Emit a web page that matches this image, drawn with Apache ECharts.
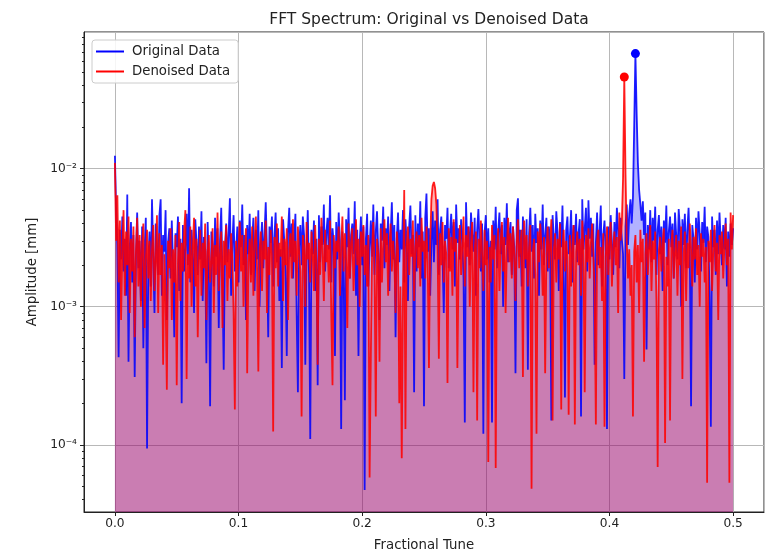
<!DOCTYPE html>
<html>
<head>
<meta charset="utf-8">
<script src="https://cdn.jsdelivr.net/npm/echarts@6/dist/echarts.min.js"></script>
<style>
  html, body { margin: 0; padding: 0; background: #fff; }
  #chart { width: 772px; height: 557px; }
</style>
</head>
<body>
<div id="chart"></div>
<script>
// FFT bins: fractional tune 0 .. 0.5, one bin every 0.001
const tuneStep = 0.001
// amplitudes, in units of 1e-4 mm
const ampUnit = 1e-4
const originalAmp = [
  124, 50, 28, 4.3, 36, 22, 45, 18, 31, 12,
  65, 4, 27, 41, 15, 33, 3.1, 24, 48, 19,
  30, 11, 38, 5, 26, 44, 0.94, 21, 35, 14,
  60, 23, 9, 40, 28, 17, 46, 60, 12, 33,
  25, 50, 8, 29, 37, 16, 42, 21, 6, 34,
  27, 45, 13, 31, 2, 39, 18, 26, 47, 20,
  72, 15, 36, 24, 9, 43, 29, 17, 38, 22,
  49, 11, 32, 26, 3.9, 41, 19, 1.9, 35, 28,
  14, 44, 23, 37, 7, 30, 52, 16, 3.5, 27,
  40, 21, 34, 61, 12, 29, 46, 18, 25, 38,
  15, 42, 27, 55, 20, 33, 8, 39, 24, 47,
  17, 30, 44, 13, 36, 22, 50, 10, 28, 41,
  19, 34, 57, 25, 6, 38, 29, 45, 14, 32,
  48, 21, 37, 11, 26, 3.6, 43, 30, 18, 4.4,
  35, 52, 23, 40, 16, 31, 47, 9, 2.4, 28,
  39, 20, 45, 33, 3.8, 26, 50, 17, 1.1, 36,
  24, 42, 13, 31, 2.7, 46, 21, 38, 28, 55,
  18, 34, 44, 26, 64, 15, 37, 29, 4.4, 41,
  22, 48, 30, 1.3, 35, 19, 2.1, 43, 27, 52,
  16, 33, 40, 24, 58, 12, 36, 4.4, 29, 45,
  20, 38, 0.47, 31, 47, 14, 27, 42, 23, 55,
  17, 35, 49, 25, 8, 40, 30, 53, 19, 37,
  28, 45, 13, 33, 57, 22, 39, 6, 31, 48,
  21, 36, 26, 50, 15, 43, 29, 11, 38, 54,
  24, 33, 2.4, 46, 18, 40, 27, 58, 16, 35,
  1.9, 44, 66, 25, 37, 12, 30, 49, 21, 42,
  28, 60, 17, 36, 45, 23, 9, 39, 31, 52,
  19, 34, 47, 26, 41, 14, 55, 29, 37, 22,
  43, 31, 16, 1.45, 57, 27, 38, 20, 48, 33,
  25, 44, 12, 36, 51, 28, 18, 40, 1.2, 34,
  46, 22, 37, 15, 30, 1.45, 42, 26, 53, 19,
  35, 48, 24, 39, 10, 44, 28, 56, 21, 33,
  41, 17, 38, 27, 3.3, 50, 61, 23, 36, 14,
  45, 30, 19, 43, 3.5, 34, 52, 25, 39, 16,
  47, 29, 37, 12, 42, 26, 55, 20, 33, 44,
  18, 38, 28, 1.5, 46, 31, 22, 49, 35, 13,
  41, 27, 54, 19, 2.2, 36, 45, 24, 32, 50,
  15, 39, 28, 47, 21, 34, 43, 1.6, 60, 26,
  37, 52, 18, 59, 31, 44, 23, 40, 3.8, 29,
  48, 20, 35, 54, 14, 33, 42, 25, 1.3, 38,
  22, 46, 30, 17, 41, 27, 52, 36, 19, 44,
  31, 24, 3, 38, 55, 28, 47, 60, 40, 62,
  200, 680, 250, 110, 70, 55, 42, 58, 33, 48,
  4.9, 39, 26, 50, 21, 44, 30, 53, 17, 36,
  46, 24, 38, 13, 42, 29, 54, 20, 35, 45,
  27, 40, 16, 48, 33, 22, 51, 37, 10, 43,
  28, 47, 19, 36, 52, 25, 1.9, 39, 31, 15,
  44, 26, 49, 34, 18, 41, 29, 53, 21, 38,
  32, 12, 1.35, 45, 27, 36, 17, 42, 24, 48,
  30, 20, 39, 26, 44, 14, 35, 23, 40, 28,
  37
]
const denoisedAmp = [
  110, 30, 64, 15, 42, 8, 27, 50, 12, 35,
  20, 45, 9, 31, 18, 38, 6, 25, 44, 14,
  33, 10, 28, 40, 7, 22, 36, 16, 30, 11,
  26, 39, 13, 21, 46, 9, 34, 17, 28, 3.8,
  24, 12, 2.5, 30, 19, 37, 8, 26, 15, 33,
  2.7, 22, 41, 11, 29, 18, 35, 50, 3, 24,
  16, 38, 10, 27, 44, 14, 31, 6, 23, 36,
  12, 29, 19, 40, 8, 25, 33, 15, 21, 37,
  9, 28, 17, 48, 13, 24, 35, 7, 30, 20,
  39, 11, 26, 16, 34, 22, 9, 1.8, 30, 14,
  27, 41, 18, 33, 10, 25, 37, 3.3, 21, 31,
  15, 38, 12, 28, 45, 19, 3.4, 26, 35, 13,
  30, 22, 42, 9, 27, 17, 36, 24, 1.25, 32,
  19, 40, 14, 29, 23, 45, 11, 31, 20, 37,
  8, 26, 34, 16, 43, 21, 30, 12, 38, 25,
  18, 1.6, 33, 27, 10, 41, 22, 29, 15, 35,
  24, 13, 39, 20, 3.8, 31, 17, 44, 26, 11,
  36, 21, 28, 15, 42, 9, 2.7, 33, 19, 30,
  25, 38, 12, 27, 45, 18, 34, 22, 7, 40,
  16, 29, 37, 13, 24, 43, 20, 31, 10, 35,
  23, 39, 17, 28, 14, 33, 0.58, 4.5, 26, 41,
  19, 1.6, 31, 24, 4, 37, 15, 29, 43, 21,
  34, 12, 27, 40, 18, 30, 22, 9, 35, 26,
  2, 14, 0.8, 13, 70, 1.3, 28, 38, 17, 31,
  23, 42, 11, 27, 35, 19, 33, 14, 44, 25,
  30, 16, 38, 21, 3.6, 29, 60, 75, 80, 72,
  55, 26, 4.2, 34, 20, 41, 15, 30, 24, 2.8,
  37, 18, 32, 12, 43, 25, 31, 3.6, 22, 39,
  17, 28, 45, 14, 33, 23, 38, 10, 29, 41,
  2.4, 26, 35, 1.5, 31, 19, 42, 24, 13, 36,
  20, 30, 0.75, 27, 15, 39, 22, 33, 0.68, 25,
  37, 13, 29, 41, 18, 32, 9, 26, 44, 21,
  34, 16, 38, 24, 11, 30, 43, 19, 28, 36,
  3.1, 42, 22, 33, 14, 27, 39, 0.48, 25, 31,
  17, 1.2, 35, 21, 40, 28, 12, 32, 3.3, 24,
  38, 19, 29, 43, 1.5, 26, 34, 15, 31, 22,
  40, 1.8, 27, 36, 18, 30, 23, 1.65, 33, 14,
  28, 39, 1.4, 25, 35, 20, 31, 12, 42, 26,
  2.4, 33, 21, 37, 16, 29, 40, 24, 13, 1.4,
  30, 36, 19, 27, 11, 34, 1.35, 23, 38, 17,
  29, 41, 14, 26, 35, 20, 32, 9, 48, 30,
  40, 85, 460, 90, 30, 16, 26, 12, 20, 1.6,
  25, 33, 15, 28, 9, 36, 21, 31, 4, 24,
  34, 17, 27, 39, 13, 30, 22, 35, 11, 0.69,
  26, 32, 18, 29, 37, 1.03, 23, 14, 31, 1.5,
  28, 36, 16, 25, 33, 12, 30, 20, 38, 3,
  24, 35, 11, 29, 19, 40, 26, 14, 32, 22,
  37, 17, 28, 10, 34, 23, 31, 15, 27, 0.53,
  30, 21, 36, 13, 26, 39, 18, 29, 8, 33,
  24, 35, 16, 28, 40, 20, 31, 0.53, 48, 26,
  46
]
const seriesNames = ['Original Data', 'Denoised Data']
const seriesColors = ['#0000ff', '#ff0000']
const yMin = 3.26e-5
const yMax = 0.0975

function toPairs (amps) {
  return amps.map((v, i) => [+(i * tuneStep).toFixed(3), v * ampUnit])
}
// dot on the highest bin of each spectrum
function peakOf (pairs) {
  let best = pairs[0]
  pairs.forEach(p => { if (p[1] > best[1]) best = p })
  return best
}

const origData = toPairs(originalAmp)
const denData = toPairs(denoisedAmp)

// log minor ticks at 2..9 x 10^n inside the range
let minorTicks = []
for (let e = -5; e <= -2; e++) {
  for (let m = 2; m <= 9; m++) {
    let v = m * Math.pow(10, e)
    if (v > yMin && v < yMax) minorTicks.push(v)
  }
}

const supMap = { '-': '⁻', '0': '⁰', '1': '¹', '2': '²', '3': '³', '4': '⁴', '5': '⁵', '6': '⁶', '7': '⁷', '8': '⁸', '9': '⁹' }
function powLabel (v) {
  const e = String(Math.round(Math.log10(v)))
  return '10' + e.split('').map(c => supMap[c]).join('')
}

const font = 'DejaVu Sans'
const txt = '#222'

let chart = echarts.init(document.getElementById('chart'))
let series = []
// fills first, lines on top
;[origData, denData].forEach((d, i) => {
  series.push({
    type: 'line',
    data: d,
    symbol: 'none',
    silent: true,
    z: 1,
    lineStyle: { width: 0, opacity: 0 },
    areaStyle: { color: seriesColors[i], opacity: 0.3, origin: 'start' }
  })
})
;[origData, denData].forEach((d, i) => {
  series.push({
    type: 'line',
    name: seriesNames[i],
    data: d,
    symbol: 'none',
    z: 2,
    itemStyle: { color: seriesColors[i] },
    lineStyle: { width: 1.8, color: seriesColors[i], opacity: 0.88 }
  })
})
;[origData, denData].forEach((d, i) => {
  series.push({
    type: 'scatter',
    data: [peakOf(d)],
    symbolSize: 9,
    z: 3,
    itemStyle: { color: seriesColors[i], opacity: 1 }
  })
})

let option = {
  animation: false,
  textStyle: { fontFamily: font, color: txt },
  title: {
    text: 'FFT Spectrum: Original vs Denoised Data',
    left: 424,
    textAlign: 'center',
    top: 7,
    textStyle: { fontFamily: font, fontSize: 15.5, fontWeight: 'normal', color: txt }
  },
  legend: {
    orient: 'vertical',
    left: 92,
    top: 40,
    padding: [5, 8, 5, 4],
    itemWidth: 28,
    itemHeight: 2,
    itemGap: 7,
    backgroundColor: 'rgba(255,255,255,0.85)',
    borderColor: '#ccc',
    borderWidth: 1,
    borderRadius: 3,
    data: seriesNames.map(n => ({ name: n, icon: 'rect' })),
    textStyle: { fontFamily: font, fontSize: 13.3, color: txt, padding: [0, 0, 0, 3] }
  },
  grid: {
    left: 84,
    right: 8,
    top: 32,
    bottom: 40,
    show: true,
    borderColor: '#222',
    borderWidth: 1,
    backgroundColor: 'transparent'
  },
  xAxis: {
    type: 'value',
    min: -0.025,
    max: 0.525,
    splitNumber: 5,
    name: 'Fractional Tune',
    nameLocation: 'middle',
    nameGap: 27,
    nameTextStyle: { fontFamily: font, fontSize: 13.3, color: txt },
    axisLine: { show: true, onZero: false, lineStyle: { color: '#222', width: 1 } },
    axisTick: { show: true, length: 4, lineStyle: { color: '#222' } },
    axisLabel: {
      showMinLabel: false,
      showMaxLabel: false,
      margin: 6,
      fontSize: 12.2,
      color: txt,
      fontFamily: font,
      formatter: v => v.toFixed(1)
    },
    splitLine: { show: true, lineStyle: { color: '#b8b8b8', width: 1 } }
  },
  yAxis: [
    {
      type: 'log',
      logBase: 10,
      min: yMin,
      max: yMax,
      name: 'Amplitude [mm]',
      nameLocation: 'middle',
      nameRotate: 90,
      nameGap: 45,
      nameTextStyle: { fontFamily: font, fontSize: 13.3, color: txt },
      axisLine: { show: true, onZero: false, lineStyle: { color: '#222', width: 1 } },
      axisTick: { show: true, length: 4, lineStyle: { color: '#222' } },
      axisLabel: {
        showMinLabel: false,
        showMaxLabel: false,
        margin: 7,
        fontSize: 12.2,
        color: txt,
        fontFamily: font,
        formatter: powLabel
      },
      splitLine: { show: true, lineStyle: { color: '#b8b8b8', width: 1 } }
    },
    {
      // minor ticks only
      type: 'log',
      logBase: 10,
      min: yMin,
      max: yMax,
      position: 'left',
      offset: 0,
      axisLine: { show: false, onZero: false },
      axisTick: { show: true, length: 2, customValues: minorTicks, lineStyle: { color: '#222' } },
      axisLabel: { show: false },
      splitLine: { show: false }
    }
  ],
  series: series
}
chart.setOption(option)
</script>
</body>
</html>
